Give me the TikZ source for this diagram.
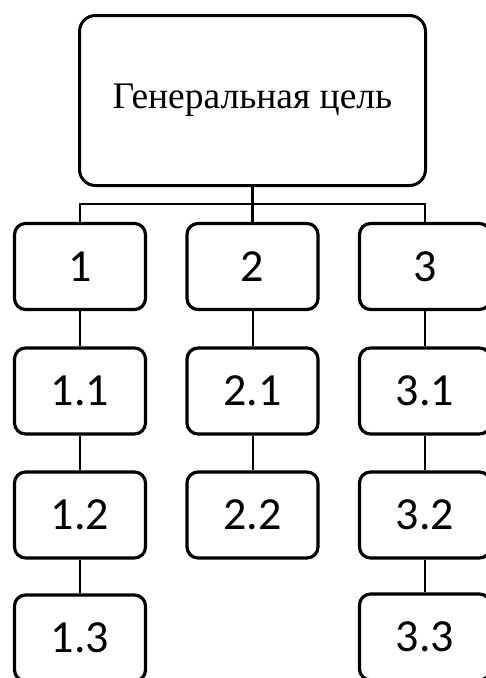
\documentclass[tikz,border=0pt]{standalone}
\usepackage{fontspec}
\setmainfont{Liberation Serif}
\newfontfamily\digitfont{Carlito}
\begin{document}
\begin{tikzpicture}[x=1pt,y=-1pt,
  goalbox/.style={draw,line width=3pt,rounded corners=16pt,minimum width=346pt,minimum height=170pt,inner sep=0pt,font=\fontsize{37.5}{42}\selectfont},
  itembox/.style={draw,line width=3.2pt,rounded corners=11pt,minimum width=131pt,minimum height=86pt,inner sep=0pt,font=\digitfont\fontsize{46}{50}\selectfont},
  link/.style={line width=2pt},
  bus/.style={line width=1.5pt}]
\clip (0,0) rectangle (486,678);
\useasboundingbox (0,0) rectangle (486,678);
\node[goalbox] (g) at (252.5,100.5) {Генеральная цель};
\node[itembox] (a1) at (80,266.5) {1};
\node[itembox] (a2) at (252.5,266.5) {2};
\node[itembox] (a3) at (425,266.5) {3};
\node[itembox] (b1) at (80,391) {1.1};
\node[itembox] (b2) at (252.5,391) {2.1};
\node[itembox] (b3) at (425,391) {3.1};
\node[itembox] (c1) at (80,515) {1.2};
\node[itembox] (c2) at (252.5,515) {2.2};
\node[itembox] (c3) at (425,515) {3.2};
\node[itembox] (d1) at (80,638) {1.3};
\node[itembox] (d3) at (425,637) {3.3};
\coordinate (busl) at (80,204);
\coordinate (busr) at (425,204);
\draw[line width=3pt] (g.south) -- (a2.north);
\draw[bus] (a1.north) -- (busl) -- (busr) -- (a3.north);
\foreach \u/\v in {a1/b1,b1/c1,c1/d1,a2/b2,b2/c2,a3/b3,b3/c3,c3/d3}
  \draw[link] (\u.south) -- (\v.north);
\end{tikzpicture}
\end{document}
